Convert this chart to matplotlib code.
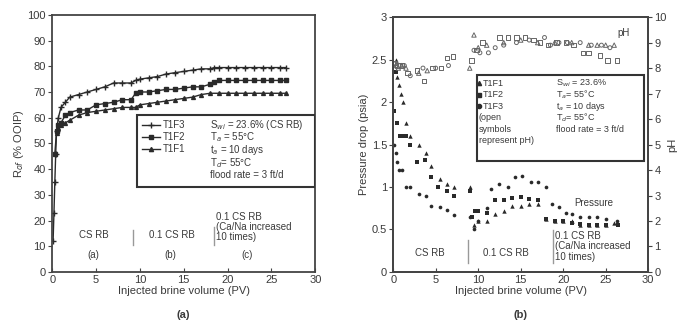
import numpy as np
import matplotlib
matplotlib.use("Agg")
import matplotlib.pyplot as plt

plt.rcParams['font.family'] = ['Liberation Sans', 'DejaVu Sans']

# ---- panel (a): oil recovery ----
x_f3 = [0.1, 0.2, 0.3, 0.4, 0.5, 0.7, 1, 1.5, 2, 3, 4, 5, 6, 7, 8, 9, 9.5, 10, 11, 12, 13, 14, 15, 16, 17, 18,
        18.5, 19, 20, 21, 22, 23, 24, 25, 26, 26.7]
r_f3 = [12, 23, 35, 46, 55, 60, 64, 66, 68, 69, 70, 71, 72, 73.5, 73.5, 73.5, 74.5, 75, 75.5, 76, 77, 77.5, 78,
        78.5, 79, 79, 79.5, 79.5, 79.5, 79.5, 79.5, 79.5, 79.5, 79.5, 79.5, 79.5]
x_f2 = [0.3, 0.5, 0.7, 1, 1.5, 2, 3, 4, 5, 6, 7, 8, 9, 9.5, 10, 11, 12, 13, 14, 15, 16, 17, 18, 18.5, 19, 20,
        21, 22, 23, 24, 25, 26, 26.7]
r_f2 = [46, 55, 57, 58, 61, 62, 63, 63, 65, 65.5, 66, 67, 67, 69.5, 70, 70, 70.5, 71, 71, 71.5, 72, 72, 73, 74,
        74.5, 74.5, 74.5, 74.5, 74.5, 74.5, 74.5, 74.5, 74.5]
x_f1 = [0.5, 0.7, 1, 1.5, 2, 3, 4, 5, 6, 7, 8, 9, 9.5, 10, 11, 12, 13, 14, 15, 16, 17, 18, 19, 20, 21, 22, 23,
        24, 25, 26, 26.7]
r_f1 = [54, 56, 57, 58, 59, 61, 62, 62.5, 63, 63.5, 64, 64, 64, 65, 65.5, 66, 66.5, 67, 67.5, 68, 69, 69.5, 69.5,
        69.5, 69.5, 69.5, 69.5, 69.5, 69.5, 69.5, 69.5]

# ---- panel (b): pressure drop (filled) ----
p1_x = [0.3, 0.5, 0.7, 0.9, 1.1, 1.5, 2, 3, 3.8, 4.5, 5.5, 6.3, 7.2, 9, 9.5, 10, 11, 12, 13, 14, 15, 16, 17,
        18, 19, 20, 21, 22, 23, 24, 25, 26]
p1_y = [2.5, 2.3, 2.2, 2.1, 2.0, 1.75, 1.6, 1.5, 1.4, 1.25, 1.1, 1.03, 1.0, 1.0, 0.55, 0.6, 0.6, 0.68, 0.72,
        0.78, 0.78, 0.8, 0.8, 0.62, 0.6, 0.6, 0.6, 0.55, 0.55, 0.55, 0.55, 0.58]
p2_x = [0.1, 0.3, 0.5, 0.8, 1.1, 1.5, 2, 2.8, 3.7, 4.5, 5.3, 6.3, 7.2, 9, 9.3, 9.6, 10, 11, 12, 13, 14, 15,
        16, 17, 18, 19, 20, 21, 22, 23, 24, 25, 26.5]
p2_y = [1.9, 2.35, 1.75, 1.6, 1.6, 1.6, 1.5, 1.3, 1.32, 1.12, 1.0, 0.95, 0.9, 0.95, 0.65, 0.72, 0.72, 0.7,
        0.85, 0.85, 0.87, 0.88, 0.86, 0.85, 0.62, 0.6, 0.6, 0.58, 0.57, 0.55, 0.55, 0.55, 0.55]
p3_x = [0.1, 0.3, 0.5, 0.7, 1, 1.5, 2, 3, 3.8, 4.5, 5.5, 6.3, 7.2, 9, 9.5, 10, 11, 11.5, 12.5, 13.5, 14.3,
        15.2, 16.2, 17, 18, 18.7, 19.5, 20.3, 21, 22, 23, 24, 25, 26.3]
p3_y = [1.5, 1.4, 1.3, 1.2, 1.2, 1.0, 1.0, 0.92, 0.9, 0.78, 0.76, 0.73, 0.67, 0.65, 0.5, 0.6, 0.75, 0.98,
        1.04, 1.0, 1.12, 1.13, 1.06, 1.06, 1.0, 0.8, 0.76, 0.7, 0.68, 0.65, 0.65, 0.65, 0.62, 0.6]

# ---- panel (b): pH (open) ----
ph1_x = [0.3, 0.6, 1.0, 1.5, 3, 4, 9, 9.5, 10, 11, 13, 15, 17, 19, 21, 23, 24, 25, 26]
ph1_y = [8.1, 8.0, 8.1, 8.0, 7.8, 7.9, 8.0, 9.3, 8.8, 8.9, 9.0, 9.1, 9.0, 9.0, 9.0, 8.9, 8.9, 8.9, 8.9]
ph2_x = [0.2, 0.5, 1.0, 1.7, 2.8, 3.6, 4.6, 5.6, 6.3, 7.0, 9.2, 9.8, 10.5, 12.5, 13.5, 14.5, 15.5, 16.5,
         17.3, 18.2, 19.2, 20.3, 21.2, 22.3, 23.0, 24.3, 25.2, 26.3]
ph2_y = [8.2, 8.1, 8.1, 7.8, 7.9, 7.5, 8.0, 8.0, 8.4, 8.45, 8.3, 8.7, 9.0, 9.2, 9.2, 9.2, 9.2, 9.1, 9.0,
         8.9, 9.0, 9.0, 8.9, 8.6, 8.6, 8.5, 8.3, 8.3]
ph3_x = [0.4, 0.8, 1.3, 2, 3.5, 5, 6.5, 9.5, 10.2, 11.2, 12, 13, 14.5, 16, 17.8, 18.5, 19.5, 20.5, 22,
         23.3, 24.5, 25.5]
ph3_y = [8.1, 8.1, 8.1, 7.7, 8.0, 8.0, 8.1, 8.7, 8.6, 8.6, 8.8, 8.9, 9.0, 9.1, 9.2, 8.9, 9.0, 9.0, 9.0,
         8.9, 8.9, 8.8]

c = '#2a2a2a'
tc = '#3a3a3a'
fs = 7

fig = plt.figure(figsize=(6.78, 3.23), dpi=100)

# ================= (a) =================
ax = fig.add_axes([0.077, 0.158, 0.388, 0.796])
ax.plot(x_f3, r_f3, '-', color=c, marker='+', ms=4, mew=1.0, lw=1.0)
ax.plot(x_f2, r_f2, '-', color=c, marker='s', ms=2.5, lw=1.0)
ax.plot(x_f1, r_f1, '-', color=c, marker='^', ms=2.8, lw=1.0)
ax.set_xlim(0, 30)
ax.set_ylim(0, 100)
ax.set_xticks(range(0, 31, 5))
ax.set_yticks(range(0, 101, 10))
ax.set_xlabel('Injected brine volume (PV)', fontsize=8, color=tc, labelpad=1)
ax.set_ylabel('R$_{of}$ (% OOIP)', fontsize=8, color=tc, labelpad=1)
ax.text(0.5, -0.167, '(a)', transform=ax.transAxes, ha='center', va='center', fontsize=8,
        fontweight='bold', color=tc)

# legend box
leg = [('T1F3', '+'), ('T1F2', 's'), ('T1F1', '^')]
ax.add_patch(plt.Rectangle((0.323, 0.33), 0.677, 0.281, transform=ax.transAxes, fc='white',
                           ec='#333', lw=1.5, zorder=4))
for i, (lab, mk) in enumerate(leg):
    yy = 0.572 - i * 0.047
    ax.plot([0.342, 0.41], [yy, yy], '-', color=c, lw=1.0, transform=ax.transAxes, zorder=5)
    ax.plot([0.376], [yy], marker=mk, color=c, ms=3 if mk != '+' else 4, transform=ax.transAxes,
            zorder=5)
    ax.text(0.422, yy, lab, transform=ax.transAxes, fontsize=fs, va='center', color=tc, zorder=5)
notes_a = ['S$_{wi}$ = 23.6% (CS RB)', 'T$_a$ = 55\u00b0C', 't$_a$ = 10 days', 'T$_d$= 55\u00b0C',
           'flood rate = 3 ft/d']
for i, s in enumerate(notes_a):
    ax.text(0.60, 0.572 - i * 0.049, s, transform=ax.transAxes, fontsize=fs, va='center', color=tc,
            zorder=5)

ax.text(4.7, 14.4, 'CS RB', fontsize=fs, ha='center', va='center', color=tc)
ax.text(4.7, 6.6, '(a)', fontsize=fs, ha='center', va='center', color=tc)
ax.plot([9.25, 9.25], [10.5, 16.5], color='#999', lw=1.0)
ax.text(13.7, 14.4, '0.1 CS RB', fontsize=fs, ha='center', va='center', color=tc)
ax.text(13.5, 6.6, '(b)', fontsize=fs, ha='center', va='center', color=tc)
ax.plot([18.4, 18.4], [10.5, 17.5], color='#999', lw=1.0)
ax.text(18.7, 17.5, '0.1 CS RB\n(Ca/Na increased\n10 times)', fontsize=fs, ha='left', va='center',
        color=tc, linespacing=1.05)
ax.text(22.2, 6.6, '(c)', fontsize=fs, ha='center', va='center', color=tc)

# ================= (b) =================
bx = fig.add_axes([0.58, 0.158, 0.376, 0.789])
bx.scatter(p1_x, p1_y, marker='^', s=10, color=c, lw=0)
bx.scatter(p2_x, p2_y, marker='s', s=8, color=c, lw=0)
bx.scatter(p3_x, p3_y, marker='o', s=7, color=c, lw=0)
bx.set_xlim(0, 30)
bx.set_ylim(0, 3)
bx.set_xticks(range(0, 31, 5))
bx.set_yticks([0, 0.5, 1, 1.5, 2, 2.5, 3])
bx.set_yticklabels(['0', '0.5', '1', '1.5', '2', '2.5', '3'])
bx.set_xlabel('Injected brine volume (PV)', fontsize=8, color=tc, labelpad=1)
bx.set_ylabel('Pressure drop (psia)', fontsize=8, color=tc, labelpad=2)
bx.text(0.5, -0.167, '(b)', transform=bx.transAxes, ha='center', va='center', fontsize=8,
        fontweight='bold', color=tc)

px = bx.twinx()
px.set_ylim(0, 10)
px.set_yticks(range(0, 11))
px.scatter(ph1_x, ph1_y, marker='^', s=10, facecolors='none', edgecolors='#666', lw=0.7)
px.scatter(ph2_x, ph2_y, marker='s', s=10, facecolors='none', edgecolors='#666', lw=0.7)
px.scatter(ph3_x, ph3_y, marker='o', s=8, facecolors='none', edgecolors='#666', lw=0.7)
px.set_ylabel('pH', fontsize=8, color=tc, rotation=90)
px.yaxis.set_label_coords(1.075, 0.5)

fb = 6.5
dy = 0.045
bx.add_patch(plt.Rectangle((0.327, 0.435), 0.655, 0.338, transform=bx.transAxes, fill=False,
                           ec='#333', lw=1.5, zorder=5))
leg_b = [('T1F1', '^'), ('T1F2', 's'), ('T1F3', 'o')]
for i, (lab, mk) in enumerate(leg_b):
    yy = 0.74 - i * dy
    bx.plot([0.337], [yy], marker=mk, color=c, ms=3, transform=bx.transAxes, clip_on=False)
    bx.text(0.352, yy, lab, transform=bx.transAxes, fontsize=fb, va='center', color=tc)
for i, s in enumerate(['(open', 'symbols', 'represent pH)']):
    bx.text(0.335, 0.74 - (i + 3) * dy, s, transform=bx.transAxes, fontsize=fb, va='center', color=tc)
notes_b = ['S$_{wi}$ = 23.6%', 'T$_a$= 55\u00b0C', 't$_a$ = 10 days', 'T$_d$= 55\u00b0C',
           'flood rate = 3 ft/d']
for i, s in enumerate(notes_b):
    bx.text(0.64, 0.74 - i * dy, s, transform=bx.transAxes, fontsize=fb, va='center', color=tc)

bx.text(27.1, 2.81, 'pH', fontsize=fs, ha='center', va='center', color=tc)
bx.text(23.6, 0.81, 'Pressure', fontsize=fs, ha='center', va='center', color=tc)
bx.text(4.3, 0.22, 'CS RB', fontsize=fs, ha='center', va='center', color=tc)
bx.plot([8.75, 8.75], [0.1, 0.38], color='#999', lw=1.0)
bx.text(13.3, 0.22, '0.1 CS RB', fontsize=fs, ha='center', va='center', color=tc)
bx.plot([18.8, 18.8], [0.1, 0.49], color='#999', lw=1.0)
bx.text(19.0, 0.30, '0.1 CS RB\n(Ca/Na increased\n10 times)', fontsize=fs, ha='left', va='center',
        color=tc, linespacing=1.05)

for a in (ax, bx, px):
    for sp in a.spines.values():
        sp.set_color('#444')
        sp.set_linewidth(1.3)
    a.tick_params(axis='y', labelsize=8, colors='#444', labelcolor=tc, length=3, width=0.8, pad=1.5)
    a.tick_params(axis='x', labelsize=8, colors='#444', labelcolor=tc, length=3, width=0.8, pad=2,
                  direction='in')

fig.savefig('out.png', dpi=100)
